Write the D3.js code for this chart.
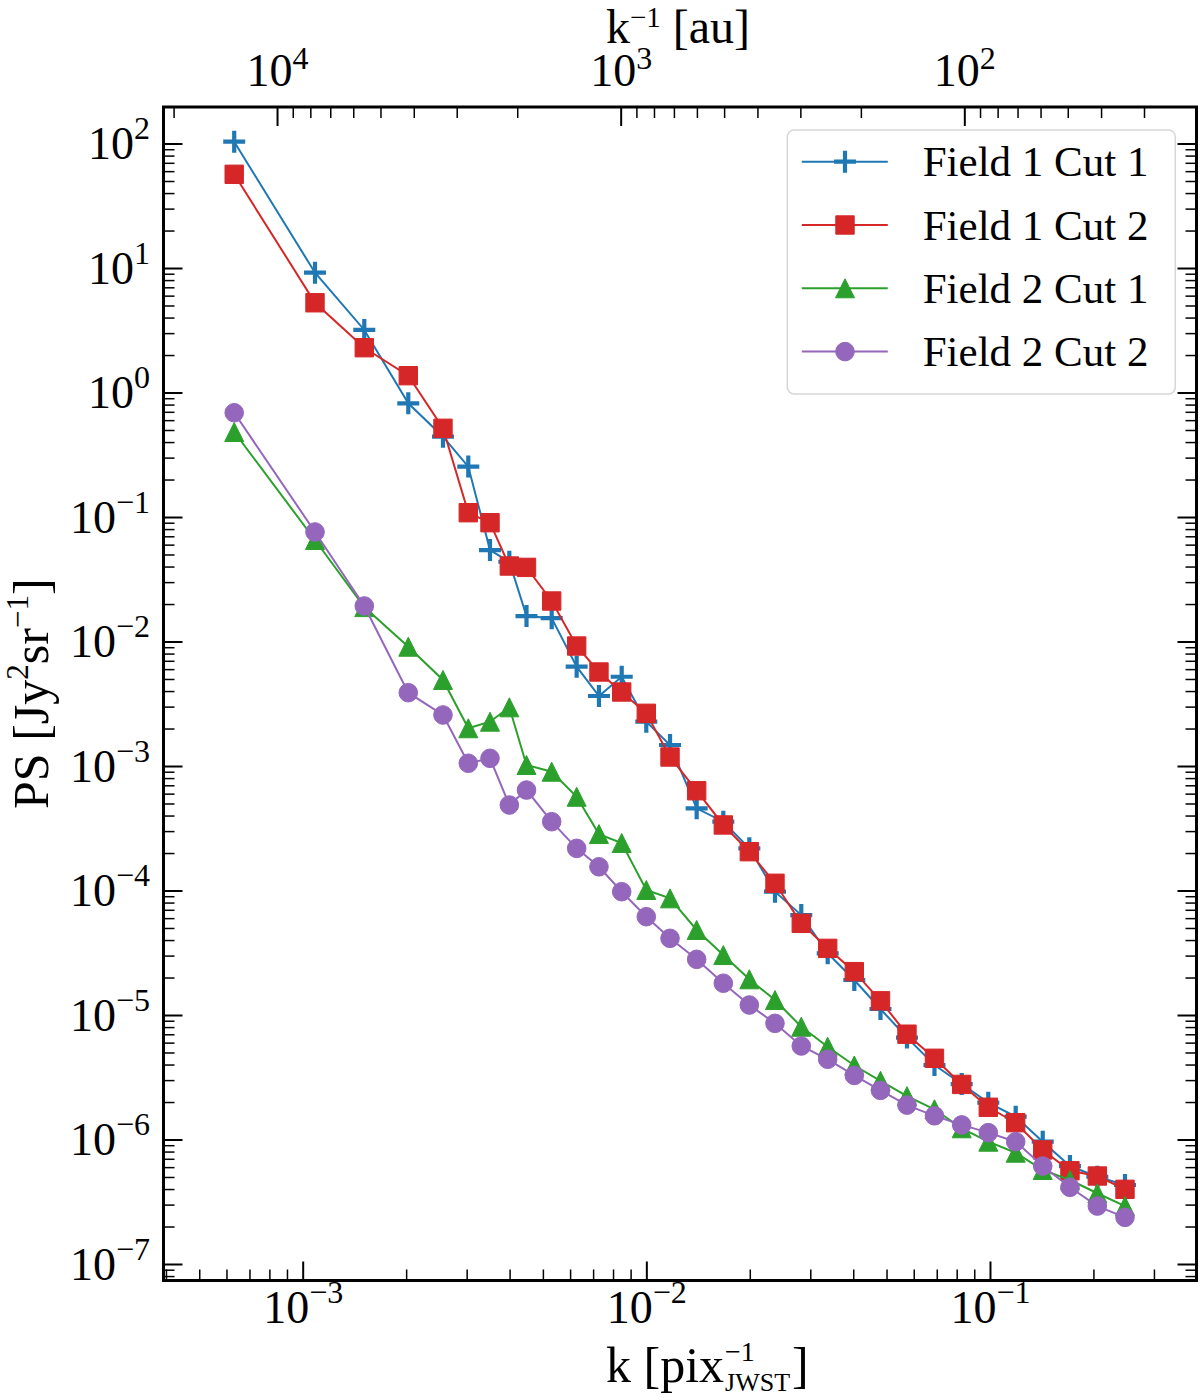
<!DOCTYPE html>
<html>
<head>
<meta charset="utf-8">
<script src="https://cdn.jsdelivr.net/npm/d3@7"></script>
<style>
  body { margin: 0; background: #fff; }
  text { font-family: "Liberation Serif", "Times New Roman", serif; fill: #000; }
</style>
</head>
<body>
<div id="chart"></div>
<script>
// spatial frequency of each bin [pix^-1]
var kValues = [6.32e-4, 1.086e-3, 1.511e-3, 2.029e-3, 2.56e-3, 3.033e-3, 3.508e-3, 3.993e-3,
               4.48e-3, 5.304e-3, 6.27e-3, 7.28e-3, 8.478e-3, 9.997e-3, 1.172e-2, 1.401e-2,
               1.675e-2, 1.994e-2, 2.368e-2, 2.824e-2, 3.371e-2, 4.029e-2, 4.801e-2, 5.734e-2,
               6.894e-2, 8.274e-2, 9.888e-2, 0.1188, 0.1424, 0.1709, 0.2053, 0.2471];

var field1Cut1 = [103.4, 9.17, 3.18, 0.819, 0.442, 0.254, 0.0543, 0.0437,
                  0.0160, 0.0154, 6.28e-3, 3.65e-3, 5.21e-3, 2.27e-3, 1.475e-3, 4.57e-4,
                  3.57e-4, 2.18e-4, 9.78e-5, 6.35e-5, 3.13e-5, 1.91e-5, 1.117e-5, 6.59e-6,
                  3.96e-6, 2.79e-6, 1.976e-6, 1.525e-6, 9.6e-7, 6.12e-7, 5.02e-7, 4.31e-7];

var field1Cut2 = [56.6, 5.26, 2.29, 1.365, 0.516, 0.1083, 0.0900, 0.0404,
                  0.0394, 0.02115, 9.2e-3, 5.69e-3, 3.93e-3, 2.65e-3, 1.181e-3, 6.33e-4,
                  3.36e-4, 2.05e-4, 1.143e-4, 5.45e-5, 3.43e-5, 2.23e-5, 1.30e-5, 7.01e-6,
                  4.49e-6, 2.77e-6, 1.815e-6, 1.365e-6, 8.24e-7, 5.61e-7, 5.09e-7, 3.98e-7];

var field2Cut1 = [0.482, 0.0654, 0.0189, 9.08e-3, 4.91e-3, 2.01e-3, 2.27e-3, 2.96e-3,
                  1.019e-3, 9.0e-4, 5.66e-4, 2.84e-4, 2.41e-4, 1.01e-4, 8.65e-5, 4.82e-5,
                  3.03e-5, 1.935e-5, 1.318e-5, 8.05e-6, 5.56e-6, 3.93e-6, 2.96e-6, 2.23e-6,
                  1.75e-6, 1.23e-6, 9.6e-7, 7.83e-7, 5.69e-7, 4.73e-7, 3.70e-7, 2.92e-7];

var field2Cut2 = [0.688, 0.0758, 0.0193, 3.88e-3, 2.57e-3, 1.052e-3, 1.153e-3, 4.86e-4,
                  6.41e-4, 3.57e-4, 2.18e-4, 1.55e-4, 9.78e-5, 6.16e-5, 4.13e-5, 2.80e-5,
                  1.80e-5, 1.203e-5, 8.57e-6, 5.64e-6, 4.41e-6, 3.27e-6, 2.48e-6, 1.89e-6,
                  1.55e-6, 1.31e-6, 1.135e-6, 9.6e-7, 6.12e-7, 4.13e-7, 2.92e-7, 2.37e-7];

var seriesNames = ["Field 1 Cut 1", "Field 1 Cut 2", "Field 2 Cut 1", "Field 2 Cut 2"];

var xTickValues = [1e-3, 1e-2, 1e-1];
var yTickValues = [1e2, 1e1, 1e0, 1e-1, 1e-2, 1e-3, 1e-4, 1e-5, 1e-6, 1e-7];
var auTickValues = [1e4, 1e3, 1e2];
var auPerPix = 8.42;   // k^-1 [pix] -> [au]

var colors = ["#1f77b4", "#d62728", "#2ca02c", "#9467bd"];
var markers = ["plus", "square", "triangle", "circle"];

var margin = {top: 107, left: 163.5};
var width = 1033, height = 1173.5;

var svg = d3.select("#chart")
            .append("svg")
            .attr("width", 1200)
            .attr("height", 1400);

var g = svg.append("g")
           .attr("transform", "translate(" + margin.left + "," + margin.top + ")");

var x = d3.scaleLog().domain([3.935e-4, 0.399]).range([0, width]);
var y = d3.scaleLog().domain([7.37e-8, 196.5]).range([height, 0]);
var xTop = d3.scaleLog().domain([auPerPix / 3.935e-4, auPerPix / 0.399]).range([0, width]);

function minorTicks(scale) {
    var dom = scale.domain(), lo = Math.min(dom[0], dom[1]), hi = Math.max(dom[0], dom[1]);
    var out = [];
    for (var e = Math.floor(Math.log10(lo)); e <= Math.ceil(Math.log10(hi)); e++) {
        for (var m = 2; m <= 9; m++) {
            var v = m * Math.pow(10, e);
            if (v > lo && v < hi) out.push(v);
        }
    }
    return out;
}

// 10^n labels with a raised exponent
function powLabel(text, supSize, rise) {
    text.each(function(d) {
        var e = Math.round(Math.log10(d));
        var t = d3.select(this).text(null);
        t.append("tspan").text("10");
        t.append("tspan")
         .attr("dy", -rise)
         .attr("font-size", supSize)
         .text(e < 0 ? "\u2212" + (-e) : String(e));
    });
}

function styleAxis(sel, w) {
    sel.select(".domain").remove();
    sel.selectAll("line").attr("stroke", "#000").attr("stroke-width", w);
    sel.attr("font-family", null).attr("font-size", 46);
}

// bottom axis
var bottomAxis = g.append("g").attr("transform", "translate(0," + height + ")");
bottomAxis.append("g").call(d3.axisBottom(x).tickValues(minorTicks(x)).tickSize(-11).tickFormat(""))
      .call(styleAxis, 1.5);
var bMaj = bottomAxis.append("g").call(d3.axisBottom(x).tickValues(xTickValues).tickSize(-19))
      .call(styleAxis, 2);
bMaj.selectAll("text").attr("y", 42).attr("dy", null).call(powLabel, 32, 20);

// left axis
var leftAxis = g.append("g");
leftAxis.append("g").call(d3.axisLeft(y).tickValues(minorTicks(y)).tickSize(-11).tickFormat(""))
    .call(styleAxis, 1.5);
var lMaj = leftAxis.append("g").call(d3.axisLeft(y).tickValues(yTickValues).tickSize(-19))
    .call(styleAxis, 2);
lMaj.selectAll("text").attr("x", -13.5).attr("dy", 15).call(powLabel, 32, 20);

// right axis (ticks only)
var rightAxis = g.append("g").attr("transform", "translate(" + width + ",0)");
rightAxis.append("g").call(d3.axisRight(y).tickValues(minorTicks(y)).tickSize(-11).tickFormat(""))
     .call(styleAxis, 1.5);
rightAxis.append("g").call(d3.axisRight(y).tickValues(yTickValues).tickSize(-19).tickFormat(""))
     .call(styleAxis, 2);

// top axis in au
var topAxis = g.append("g");
topAxis.append("g").call(d3.axisTop(xTop).tickValues(minorTicks(xTop)).tickSize(-11).tickFormat(""))
   .call(styleAxis, 1.5);
var tMaj = topAxis.append("g").call(d3.axisTop(xTop).tickValues(auTickValues).tickSize(-19))
   .call(styleAxis, 2);
tMaj.selectAll("text").attr("y", -21).attr("dy", null).call(powLabel, 32, 17);

// markers
function markerPath(type) {
    if (type === "plus") return "M-11,0H11M0,-11V11";
    if (type === "square") return "M-9.2,-9.2H9.2V9.2H-9.2Z";
    if (type === "triangle") return "M0,-9.5L9.5,9.5L-9.5,9.5Z";
    return d3.symbol(d3.symbolCircle, Math.PI * 9.3 * 9.3)();
}

function drawMarker(sel, type, color) {
    sel.attr("d", markerPath(type));
    if (type === "plus") {
        sel.attr("fill", "none").attr("stroke", color).attr("stroke-width", 4.2);
    } else {
        sel.attr("fill", color).attr("stroke", color).attr("stroke-width", 1);
    }
}

var allSeries = [field1Cut1, field1Cut2, field2Cut1, field2Cut2];
var line = d3.line().x(d => x(d[0])).y(d => y(d[1]));

allSeries.forEach(function(vals, i) {
    var pts = kValues.map((k, j) => [k, vals[j]]);
    var sg = g.append("g");
    sg.append("path")
      .datum(pts)
      .attr("d", line)
      .attr("fill", "none")
      .attr("stroke", colors[i])
      .attr("stroke-width", 2);
    sg.selectAll(null)
      .data(pts)
      .join("path")
      .attr("transform", d => "translate(" + x(d[0]) + "," + y(d[1]) + ")")
      .call(drawMarker, markers[i], colors[i]);
});

// frame
g.append("rect")
 .attr("width", width)
 .attr("height", height)
 .attr("fill", "none")
 .attr("stroke", "#000")
 .attr("stroke-width", 3);

// legend
var legend = svg.append("g").attr("transform", "translate(787.3,130)");
legend.append("rect")
      .attr("width", 388)
      .attr("height", 264)
      .attr("rx", 7)
      .attr("fill", "#fff")
      .attr("fill-opacity", 0.8)
      .attr("stroke", "#d6d6d6")
      .attr("stroke-width", 1.5);
seriesNames.forEach(function(name, i) {
    var row = legend.append("g").attr("transform", "translate(0," + (31.7 + i * 63.3) + ")");
    row.append("line").attr("x1", 14.5).attr("x2", 100.5)
       .attr("stroke", colors[i]).attr("stroke-width", 2);
    row.append("path").attr("transform", "translate(57.7,0)").call(drawMarker, markers[i], colors[i]);
    row.append("text").attr("x", 135.4).attr("y", 14.5).attr("font-size", 43).text(name);
});

// axis titles
var xt = svg.append("text").attr("y", 1382).attr("font-size", 50);
var base = xt.append("tspan").text("k [pix");
var startX = 606;
xt.attr("x", startX);
var baseW = base.node().getComputedTextLength();
svg.append("text").attr("x", startX + baseW + 1).attr("y", 1382 - 21).attr("font-size", 28).text("\u22121");
var subT = svg.append("text").attr("x", startX + baseW + 1).attr("y", 1382 + 9).attr("font-size", 26).text("JWST");
var subW = subT.node().getComputedTextLength();
svg.append("text").attr("x", startX + baseW + subW + 3).attr("y", 1382).attr("font-size", 50).text("]");

var yt = svg.append("text")
            .attr("transform", "translate(48,693.7)rotate(-90)")
            .attr("text-anchor", "middle")
            .attr("font-size", 50);
yt.append("tspan").text("PS [Jy");
yt.append("tspan").attr("dy", -20).attr("font-size", 31).text("2");
yt.append("tspan").attr("dy", 20).text("sr");
yt.append("tspan").attr("dy", -20).attr("font-size", 31).text("\u22121");
yt.append("tspan").attr("dy", 20).text("]");

var tt = svg.append("text")
            .attr("x", 678)
            .attr("y", 43)
            .attr("text-anchor", "middle")
            .attr("font-size", 48);
tt.append("tspan").text("k");
tt.append("tspan").attr("dy", -16).attr("font-size", 29).text("\u22121");
tt.append("tspan").attr("dy", 16).text(" [au]");
</script>
</body>
</html>
